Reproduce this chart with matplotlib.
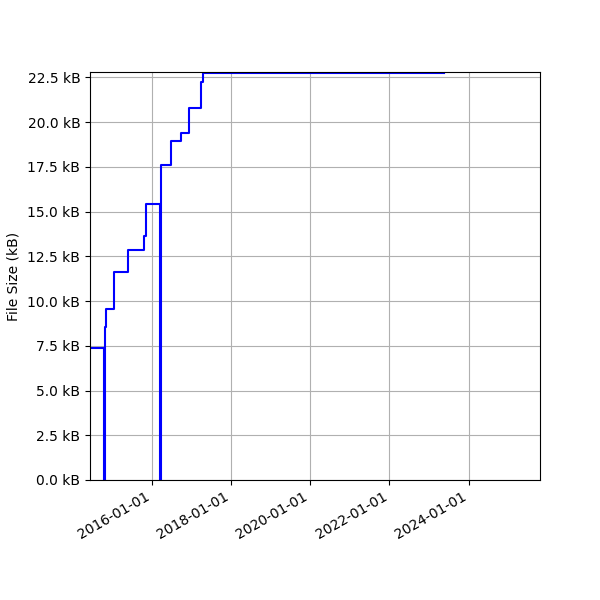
import numpy as np
import pandas as pd
import matplotlib
matplotlib.use('Agg')
import matplotlib.pyplot as plt
import matplotlib.dates as mdates
from matplotlib.ticker import FuncFormatter, MultipleLocator

# commit dates and file size (kB) after each commit
dates = ['2014-06-13', '2014-10-16', '2014-10-26', '2014-11-06', '2015-01-24',
         '2015-06-02', '2015-10-27', '2015-11-11', '2016-03-22', '2016-03-31',
         '2016-06-27', '2016-09-27', '2016-12-16', '2017-03-28', '2017-04-24',
         '2023-05-21']
sizes = [7.4, 0.0, 8.55, 9.55, 11.6,
         12.85, 13.65, 15.45, 0.0, 17.6,
         18.95, 19.4, 20.8, 22.25, 22.772,
         22.772]
x_end = '2025-10-21'
y_top = 22.8

t = pd.to_datetime(dates)

fig, ax = plt.subplots(figsize=(6, 6), dpi=100)
ax.plot(t, sizes, 'b-', drawstyle='steps-post', linewidth=1.5)

ax.set_xlim(t[0], pd.Timestamp(x_end))
ax.set_ylim(0, y_top)

ax.xaxis.set_major_locator(mdates.YearLocator(2))
ax.xaxis.set_major_formatter(mdates.DateFormatter('%Y-%m-%d'))
ax.yaxis.set_major_locator(MultipleLocator(2.5))
ax.yaxis.set_major_formatter(FuncFormatter(lambda v, pos: '%.1f kB' % v))

ax.set_ylabel('File Size (kB)', labelpad=5)
ax.grid(True)

fig.autofmt_xdate()
fig.subplots_adjust(left=0.15, right=0.9, top=0.88, bottom=0.2)
plt.savefig('out.png', dpi=100)
